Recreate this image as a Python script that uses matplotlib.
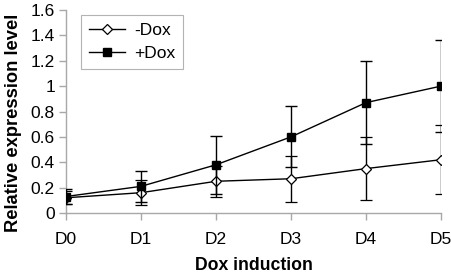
import matplotlib
matplotlib.use("Agg")
import matplotlib.pyplot as plt
from matplotlib.lines import Line2D

days = ["D0", "D1", "D2", "D3", "D4", "D5"]
minus_dox = [0.12, 0.16, 0.25, 0.27, 0.35, 0.42]
minus_err = [0.05, 0.10, 0.12, 0.18, 0.25, 0.27]
plus_dox = [0.13, 0.21, 0.38, 0.60, 0.87, 1.00]
plus_err = [0.06, 0.12, 0.23, 0.24, 0.33, 0.36]
yticks = [0, 0.2, 0.4, 0.6, 0.8, 1, 1.2, 1.4, 1.6]
ytick_labels = ["0", "0.2", "0.4", "0.6", "0.8", "1", "1.2", "1.4", "1.6"]

plt.rcParams['font.family'] = ['Liberation Sans', 'DejaVu Sans']

fig = plt.figure(figsize=(4.52, 2.78), dpi=100)
ax = fig.add_axes([66/452, 65/278, (441-66)/452, (213-10)/278])
x = list(range(len(days)))

ax.errorbar(x, minus_dox, yerr=minus_err, color='black', lw=1.0, marker='D',
            ms=5, mfc='white', mec='black', mew=0.9, capsize=4, elinewidth=1.0,
            capthick=1.0, zorder=3)
ax.errorbar(x, plus_dox, yerr=plus_err, color='black', lw=1.0, marker='s',
            ms=5.5, mfc='black', mec='black', capsize=4, elinewidth=1.0,
            capthick=1.0, zorder=4)

ax.set_xlim(0, 5)
ax.set_ylim(0, 1.6)
ax.set_xticks(x)
ax.set_xticklabels(days, fontsize=12.5)
ax.set_yticks(yticks)
ax.set_yticklabels(ytick_labels, fontsize=12.5)
for s in ['top', 'right']:
    ax.spines[s].set_visible(False)
for s in ['left', 'bottom']:
    ax.spines[s].set_color('#a8a8a8')
    ax.spines[s].set_linewidth(1.0)
ax.tick_params(axis='both', colors='#a8a8a8', labelcolor='black', length=5, width=1.0)
ax.tick_params(axis='x', pad=9)
ax.tick_params(axis='y', pad=3)
for sp in ax.spines.values():
    sp.set_clip_on(False)

ax.set_xlabel('Dox induction', fontsize=12.7, fontweight='bold', labelpad=7)
ax.set_ylabel('Relative expression level', fontsize=13.2, fontweight='bold')
ax.yaxis.set_label_coords(-0.118, 0.445)

handles = [
    Line2D([], [], color='black', lw=1.0, marker='D', ms=5, mfc='white', mec='black', mew=0.9),
    Line2D([], [], color='black', lw=1.0, marker='s', ms=5.5, mfc='black', mec='black'),
]
leg = ax.legend(handles, ['-Dox', '+Dox'], loc='upper left',
                bbox_to_anchor=(15/375, 1 - 5/203), fontsize=12.5,
                frameon=True, fancybox=False, edgecolor='#a0a0a0', handlelength=2.1,
                borderpad=0.45, labelspacing=0.45, handletextpad=0.5,
                borderaxespad=0)
leg.get_frame().set_linewidth(0.8)

fig.savefig('out.png', dpi=100)
